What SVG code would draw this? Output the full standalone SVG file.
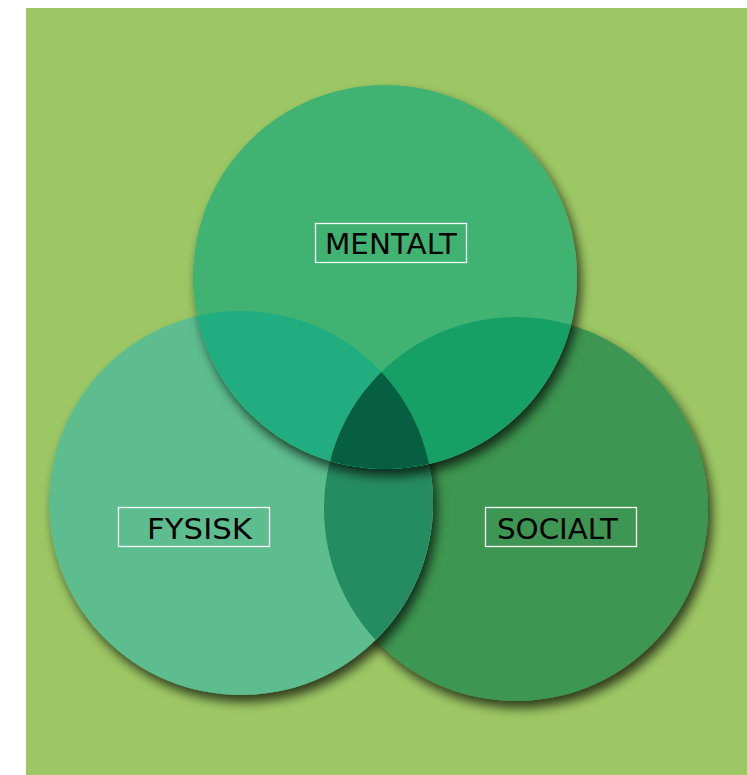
<svg xmlns="http://www.w3.org/2000/svg" width="747" height="775" viewBox="0 0 747 775">
  <defs>
    <filter id="shadow" x="-20%" y="-20%" width="140%" height="140%">
      <feGaussianBlur in="SourceAlpha" stdDeviation="5.5"/>
      <feOffset dx="4" dy="7" result="b"/>
      <feFlood flood-color="#000" flood-opacity="0.7"/>
      <feComposite in2="b" operator="in"/>
      <feMerge><feMergeNode/><feMergeNode in="SourceGraphic"/></feMerge>
    </filter>
    <clipPath id="clipM"><circle cx="385" cy="277" r="192"/></clipPath>
    <clipPath id="clipF"><circle cx="241" cy="503" r="192"/></clipPath>
    <clipPath id="clipS"><circle cx="516" cy="509" r="192"/></clipPath>
    <style>
      .lbl { font-family: "DejaVu Sans", Verdana, sans-serif; font-size: 29px; fill: #000; }
      .box { fill: none; stroke: #fff; stroke-width: 1.3; }
    </style>
  </defs>
  <rect x="26" y="8" width="721" height="767" fill="#9DC764"/>

  <g id="socialt-circle">
    <circle cx="516" cy="509" r="192" fill="#3E9651" filter="url(#shadow)"/>
  </g>
  <g id="fysisk-circle">
    <circle cx="241" cy="503" r="192" fill="#5DBD8F" filter="url(#shadow)"/>
    <g clip-path="url(#clipF)">
      <circle cx="516" cy="509" r="192" fill="#258B60"/>
    </g>
  </g>
  <g id="mentalt-circle">
    <circle cx="385" cy="277" r="192" fill="#41B372" filter="url(#shadow)"/>
    <g clip-path="url(#clipM)">
      <circle cx="241" cy="503" r="192" fill="#22AD80"/>
      <circle cx="516" cy="509" r="192" fill="#17A066"/>
      <g clip-path="url(#clipF)">
        <circle cx="516" cy="509" r="192" fill="#055F40"/>
      </g>
    </g>
  </g>

  <g id="mentalt">
    <rect class="box" x="315.5" y="223.5" width="151" height="39"/>
    <text class="lbl" x="325" y="253.5" textLength="132" lengthAdjust="spacingAndGlyphs">MENTALT</text>
  </g>
  <g id="fysisk">
    <rect class="box" x="118.5" y="507.5" width="151" height="39"/>
    <text class="lbl" x="147" y="538.5" textLength="105" lengthAdjust="spacingAndGlyphs">FYSISK</text>
  </g>
  <g id="socialt">
    <rect class="box" x="485.5" y="507.5" width="151" height="39"/>
    <text class="lbl" x="497" y="538.5" textLength="121" lengthAdjust="spacingAndGlyphs">SOCIALT</text>
  </g>
</svg>
